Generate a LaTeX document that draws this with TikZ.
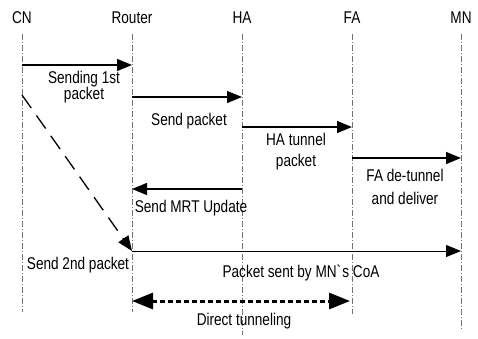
\documentclass[tikz,border=0pt]{standalone}
\usepackage{fontspec}
\setmainfont[FakeStretch=0.8]{Liberation Sans}
\usetikzlibrary{arrows.meta,positioning,calc}
\tikzset{
  actor/.style ={font=\fontsize{17}{19}\selectfont, inner sep=1pt},
  life/.style  ={black!55, line width=0.5pt, dash pattern=on 6pt off 2pt on 1pt off 2pt},
  msg/.style   ={-{Triangle[length=15pt,width=12pt]}, line width=1.3pt},
  lbl/.style   ={font=\fontsize{17}{20}\selectfont, align=center, inner sep=1pt},
  tunnel/.style={{Triangle[length=21pt,width=16pt]}-{Triangle[length=21pt,width=16pt]},
                 line width=3pt, dash pattern=on 5pt off 3pt},
}
\begin{document}
\begin{tikzpicture}[x=1pt, y=-1pt]
    \useasboundingbox (0,0) rectangle (478,338);

    % participants
    \node[actor] (cn) at (22,18)  {CN};
    \node[actor] (rt) at (132,18) {Router};
    \node[actor] (ha) at (242,18) {HA};
    \node[actor] (fa) at (352,18) {FA};
    \node[actor] (mn) at (461,18) {MN};

    % lifelines
    \coordinate (cnE) at (22,312);
    \coordinate (rtE) at (132,312);
    \coordinate (haE) at (242,335);
    \coordinate (faE) at (352,314);
    \coordinate (mnE) at (461,330);
    \draw[life] ([yshift=-9pt]cn.south) -- (cnE);
    \draw[life] ([yshift=-9pt]rt.south) -- (rtE);
    \draw[life] ([yshift=-9pt]ha.south) -- (haE);
    \draw[life] ([yshift=-9pt]fa.south) -- (faE);
    \draw[life] ([yshift=-9pt]mn.south) -- (mnE);

    % message end points
    \coordinate (m1a) at (22,65);   \coordinate (m1b) at (132,65);
    \coordinate (m2a) at (132,97);  \coordinate (m2b) at (242,97);
    \coordinate (m3a) at (242,127); \coordinate (m3b) at (352,127);
    \coordinate (m4a) at (352,158); \coordinate (m4b) at (461,158);
    \coordinate (m5a) at (242,189); \coordinate (m5b) at (132,189);
    \coordinate (m6a) at (22,95);   \coordinate (m6b) at (132,251);
    \coordinate (m7b) at (461,251);
    \coordinate (t1)  at (132,301); \coordinate (t2)  at (350,301);

    % first packet via HA and FA
    \draw[msg] (m1a) -- (m1b);
    \draw[msg] (m2a) -- (m2b);
    \draw[msg] (m3a) -- (m3b);
    \draw[msg] (m4a) -- (m4b);
    \draw[msg] (m5a) -- (m5b);

    % second packet
    \draw[msg, dash pattern=on 16pt off 9pt] (m6a) -- (m6b);
    \draw[msg, line width=1pt] (m6b) -- (m7b);
    \draw[tunnel] (t1) -- (t2);

    % labels
    \node[lbl, font=\fontsize{17}{16}\selectfont] (l1) at (84,87)  {Sending 1st\\packet};
    \node[lbl] (l2) at (189,121) {Send packet};
    \node[lbl, font=\fontsize{17}{21}\selectfont] (l3) at (296,152) {HA tunnel\\packet};
    \node[lbl, font=\fontsize{17}{23}\selectfont] (l4) at (405,187) {FA de-tunnel\\and deliver};
    \node[lbl] (l5) at (191,208) {Send MRT Update};
    \node[lbl] (l6) at (78,265)  {Send 2nd packet};
    \node[lbl] (l7) at (301,273) {Packet sent by MN\textasciigrave s CoA};
    \node[lbl] (l8) at (244,321) {Direct tunneling};
\end{tikzpicture}
\end{document}
